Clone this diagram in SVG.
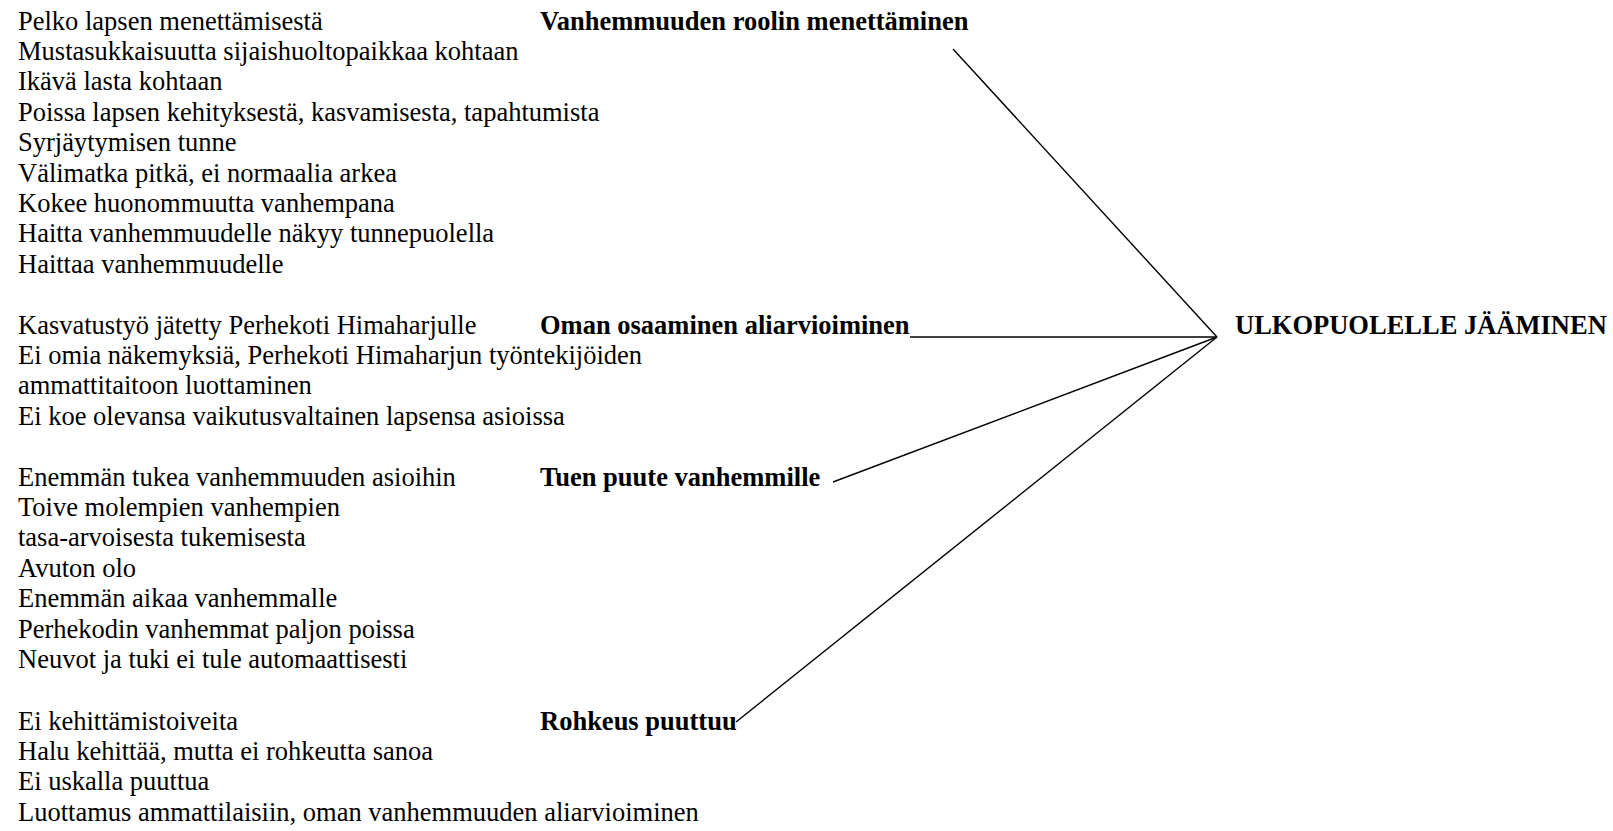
<svg xmlns="http://www.w3.org/2000/svg" width="1613" height="831" viewBox="0 0 1613 831">
<style>
text{font-family:"Liberation Serif","Times New Roman",serif;font-size:26.5px;fill:#000}
.b{font-weight:bold}
.c line{stroke:#000;stroke-width:1.4;fill:none}
</style>
<rect width="1613" height="831" fill="#fff"/>
<g id="items1">
<text x="18" y="29.5">Pelko lapsen menettämisestä</text>
<text x="18" y="59.9">Mustasukkaisuutta sijaishuoltopaikkaa kohtaan</text>
<text x="18" y="90.3">Ikävä lasta kohtaan</text>
<text x="18" y="120.7">Poissa lapsen kehityksestä, kasvamisesta, tapahtumista</text>
<text x="18" y="151.1">Syrjäytymisen tunne</text>
<text x="18" y="181.5">Välimatka pitkä, ei normaalia arkea</text>
<text x="18" y="211.9">Kokee huonommuutta vanhempana</text>
<text x="18" y="242.3">Haitta vanhemmuudelle näkyy tunnepuolella</text>
<text x="18" y="272.7">Haittaa vanhemmuudelle</text>
</g>
<g id="items2">
<text x="18" y="333.5">Kasvatustyö jätetty Perhekoti Himaharjulle</text>
<text x="18" y="363.9">Ei omia näkemyksiä, Perhekoti Himaharjun työntekijöiden</text>
<text x="18" y="394.3">ammattitaitoon luottaminen</text>
<text x="18" y="424.7">Ei koe olevansa vaikutusvaltainen lapsensa asioissa</text>
</g>
<g id="items3">
<text x="18" y="485.5">Enemmän tukea vanhemmuuden asioihin</text>
<text x="18" y="515.9">Toive molempien vanhempien</text>
<text x="18" y="546.3">tasa-arvoisesta tukemisesta</text>
<text x="18" y="576.7">Avuton olo</text>
<text x="18" y="607.1">Enemmän aikaa vanhemmalle</text>
<text x="18" y="637.5">Perhekodin vanhemmat paljon poissa</text>
<text x="18" y="667.9">Neuvot ja tuki ei tule automaattisesti</text>
</g>
<g id="items4">
<text x="18" y="729.5">Ei kehittämistoiveita</text>
<text x="18" y="759.9">Halu kehittää, mutta ei rohkeutta sanoa</text>
<text x="18" y="790.3">Ei uskalla puuttua</text>
<text x="18" y="820.7">Luottamus ammattilaisiin, oman vanhemmuuden aliarvioiminen</text>
</g>
<g id="n1"><text class="b" x="540" y="29.5">Vanhemmuuden roolin menettäminen</text></g>
<g id="n2"><text class="b" x="540" y="333.5">Oman osaaminen aliarvioiminen</text></g>
<g id="n3"><text class="b" x="540" y="485.5">Tuen puute vanhemmille</text></g>
<g id="n4"><text class="b" x="540" y="729.5">Rohkeus puuttuu</text></g>
<g id="center"><text class="b" x="1235" y="334">ULKOPUOLELLE JÄÄMINEN</text></g>
<g id="connectors" class="c">
<line x1="953" y1="49" x2="1217" y2="337"/>
<line x1="910" y1="337" x2="1217" y2="337"/>
<line x1="833" y1="482" x2="1217" y2="337"/>
<line x1="736" y1="722" x2="1217" y2="337"/>
</g>
</svg>
